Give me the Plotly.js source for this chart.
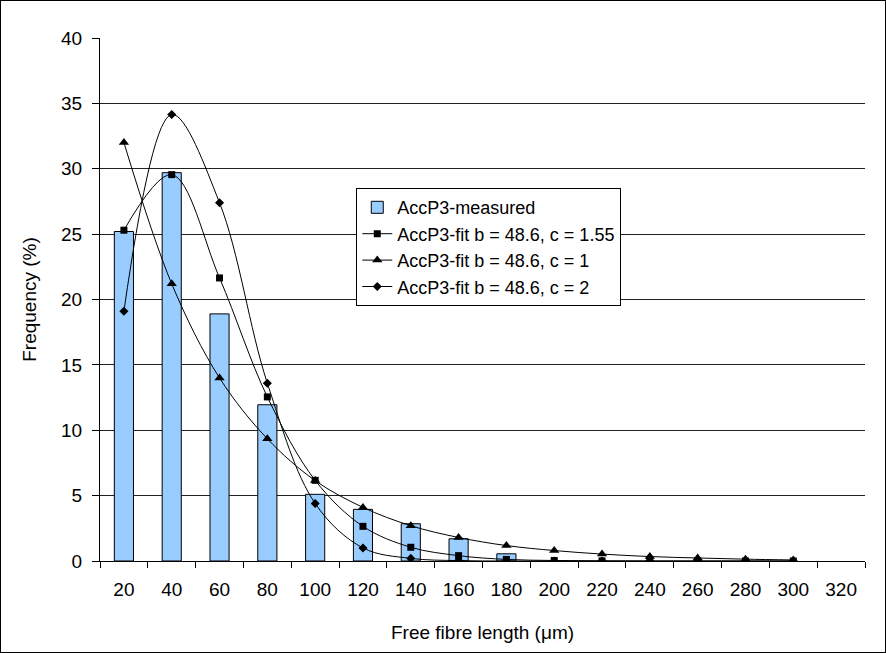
<!DOCTYPE html>
<html>
<head>
<meta charset="utf-8">
<script src="https://cdn.plot.ly/plotly-3.0.1.min.js"></script>
<style>
html,body{margin:0;padding:0;background:#fff;}
#frame{position:absolute;left:0;top:0;width:884px;height:651px;border:1px solid #000;}
#chart{position:absolute;left:0;top:0;width:886px;height:653px;}
</style>
</head>
<body>
<div id="chart"></div>
<div id="frame"></div>
<script>
const categories = ["20","40","60","80","100","120","140","160","180","200","220","240","260","280","300","320"];
const measuredX = ["20","40","60","80","100","120","140","160","180"];
const measured = [25.2, 29.7, 18.9, 11.95, 5.1, 3.95, 2.85, 1.7, 0.55];
const fitX = ["20","40","60","80","100","120","140","160","180","200","220","240","260","280","300"];
const fitC155 = [25.3, 29.55, 21.65, 12.55, 6.17, 2.65, 1.05, 0.41, 0.12, 0.04, 0.01, 0.0, 0.0, 0.0, 0.0];
const fitC1 = [32.0, 21.2, 14.0, 9.35, 6.15, 4.1, 2.7, 1.8, 1.18, 0.8, 0.53, 0.34, 0.23, 0.14, 0.08];
const fitC2 = [19.1, 34.15, 27.4, 13.6, 4.4, 1.0, 0.2, 0.03, 0.0, 0.0, 0.0, 0.0, 0.0, 0.0, 0.0];

const FS = 19;
const fam = "Liberation Sans, Arial, sans-serif";
const font = {family: fam, size: FS, color: "#000"};
const lineStyle = {color: "#000", width: 1, shape: "spline", smoothing: 1};

const traces = [
  {type: "bar", x: measuredX, y: measured, name: "AccP3-measured",
   marker: {color: "#99CCFF", line: {color: "#000", width: 1}}},
  {type: "scatter", mode: "lines+markers", x: fitX, y: fitC155, name: "AccP3-fit b = 48.6, c = 1.55",
   line: lineStyle, marker: {symbol: "square", size: 7, color: "#000"}},
  {type: "scatter", mode: "lines+markers", x: fitX, y: fitC1, name: "AccP3-fit b = 48.6, c = 1",
   line: lineStyle, marker: {symbol: "triangle-up", size: 9, color: "#000"}},
  {type: "scatter", mode: "lines+markers", x: fitX, y: fitC2, name: "AccP3-fit b = 48.6, c = 2",
   line: lineStyle, marker: {symbol: "diamond", size: 7, color: "#000"}}
];

const layout = {
  width: 886, height: 653,
  margin: {l: 100, r: 21, t: 38, b: 92},
  paper_bgcolor: "#fff", plot_bgcolor: "#fff",
  font: font,
  bargap: 0.6,
  showlegend: true,
  legend: {x: 0.335, y: 0.713, xanchor: "left", yanchor: "top",
           bgcolor: "#fff", bordercolor: "#000", borderwidth: 1, itemwidth: 30,
           font: {family: fam, size: 18, color: "#000"}, tracegroupgap: 0},
  xaxis: {type: "category", categoryorder: "array", categoryarray: categories,
          range: [-0.5, 15.5],
          showline: true, linecolor: "#000", linewidth: 1,
          ticks: "outside", tickson: "boundaries", ticklen: 6, tickcolor: "#000",
          ticklabelstandoff: 11,
          showgrid: false, zeroline: false,
          tickfont: {family: fam, size: FS, color: "#000"},
          title: {text: "Free fibre length (μm)", font: {family: fam, size: FS, color: "#000"}, standoff: 26}},
  yaxis: {range: [0, 40], dtick: 5, tick0: 0,
          showline: true, linecolor: "#000", linewidth: 1,
          ticks: "outside", ticklen: 7, tickcolor: "#000",
          ticklabelstandoff: 6,
          showgrid: true, gridcolor: "#222", gridwidth: 1, zeroline: false,
          tickfont: {family: fam, size: FS, color: "#000"},
          title: {text: "Frequency (%)", font: {family: fam, size: FS, color: "#000"}, standoff: 19}}
};

Plotly.newPlot("chart", traces, layout, {displayModeBar: false, staticPlot: true});
</script>
</body>
</html>
